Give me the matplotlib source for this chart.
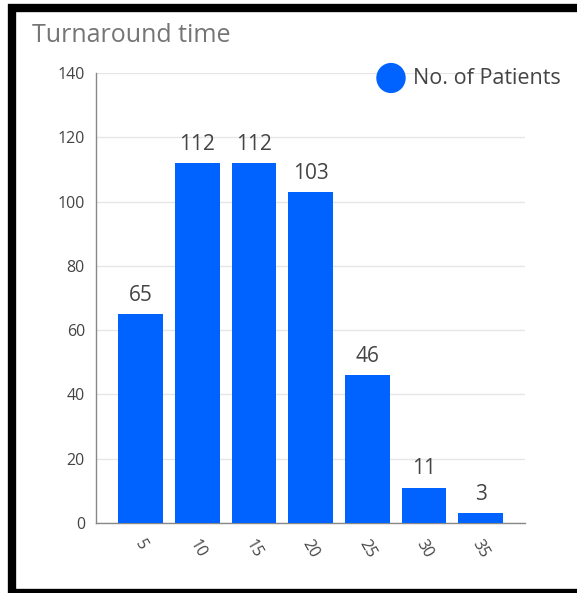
import matplotlib.pyplot as plt
from matplotlib.patches import Rectangle

plt.rcParams["font.family"] = ["Open Sans", "DejaVu Sans"]

# Data
bins = ["5", "10", "15", "20", "25", "30", "35"]
patients = [65, 112, 112, 103, 46, 11, 3]
yticks = [0, 20, 40, 60, 80, 100, 120, 140]

W, H = 577, 593
fig = plt.figure(figsize=(W / 100, H / 100), dpi=100)

# Axes placed in pixel terms
left, right, top, bottom = 96, 525, 73, 523
ax = fig.add_axes([left / W, 1 - bottom / H, (right - left) / W, (bottom - top) / H])

x = range(len(bins))
bars = ax.bar(x, patients, width=0.79, color="#0062ff", zorder=3)

for xi, v in zip(x, patients):
    ax.text(xi, v + 2.6, str(v), ha="center", va="bottom", fontsize=15, color="#444444")

ax.set_xlim(-0.785, 6.78)
ax.set_ylim(0, 140)
ax.set_yticks(yticks)
ax.set_xticks(list(x))
ax.set_xticklabels(bins, rotation=-60, ha="center", va="top", rotation_mode="default")
ax.tick_params(axis="both", length=0, labelsize=11.5, colors="#444444")
ax.tick_params(axis="y", pad=8)
ax.tick_params(axis="x", pad=10)
ax.grid(axis="y", color="#e6e6e6", linewidth=1, zorder=0)

for s in ["top", "right"]:
    ax.spines[s].set_visible(False)
for s in ["left", "bottom"]:
    ax.spines[s].set_color("#888888")
    ax.spines[s].set_linewidth(1)

# Title
fig.text(32 / W, 1 - 35 / H, "Turnaround time", fontsize=18, color="#757575", va="center", ha="left")

# Legend
fig.patches.append(plt.Circle((391 / W, 1 - 78 / H), 14 / W, transform=fig.transFigure,
                              color="#0062ff", figure=fig))
fig.text(413 / W, 1 - 78 / H, "No. of Patients", fontsize=15.5, color="#444444", va="center", ha="left")

# Black frame around the chart (right edge falls outside the image)
fig.patches.append(Rectangle((12 / W, 0), (W + 10) / W, (H - 8) / H,
                             transform=fig.transFigure, fill=False,
                             edgecolor="black", linewidth=6, figure=fig))

fig.savefig("out.png", dpi=100)
